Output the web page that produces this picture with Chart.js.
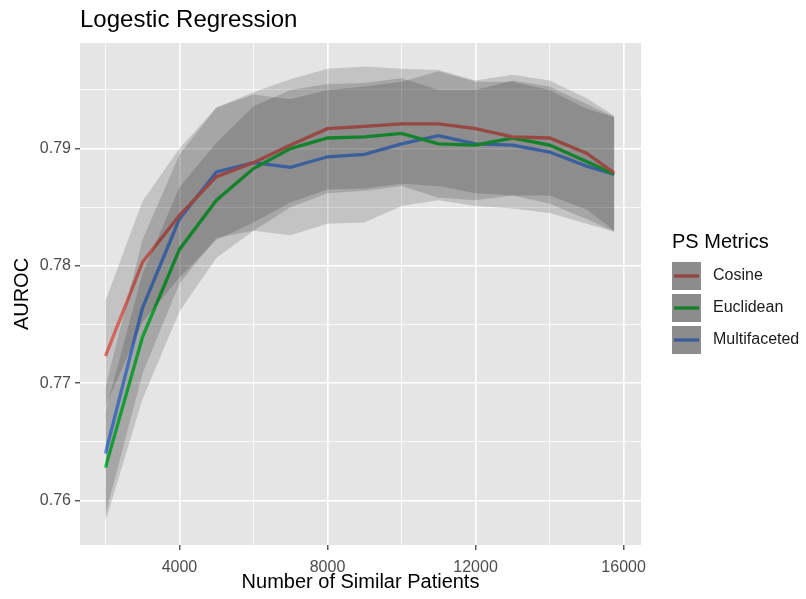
<!DOCTYPE html>
<html>
<head>
<meta charset="utf-8">
<script src="https://cdn.jsdelivr.net/npm/chart.js@4.4.1/dist/chart.umd.min.js"></script>
<style>
  body { margin: 0; background: #fff; }
  #wrap { width: 806px; height: 599px; }
</style>
</head>
<body>
<div id="wrap"><canvas id="aurocChart" width="806" height="599"></canvas></div>
<script>
// number of similar patients
var patients = [2000, 3000, 4000, 5000, 6000, 7000, 8000, 9000, 10000, 11000, 12000, 13000, 14000, 15000, 15750];

// mean AUROC per metric
var cosine       = [0.7723, 0.7803, 0.7843, 0.7876, 0.7888, 0.7903, 0.7917, 0.7919, 0.7921, 0.7921, 0.7917, 0.7910, 0.7909, 0.7896, 0.7879];
var euclidean    = [0.7628, 0.7739, 0.7814, 0.7856, 0.7883, 0.7900, 0.7909, 0.7910, 0.7913, 0.7904, 0.7903, 0.7909, 0.7903, 0.7889, 0.7878];
var multifaceted = [0.7640, 0.7764, 0.7840, 0.7880, 0.7888, 0.7884, 0.7893, 0.7895, 0.7904, 0.7911, 0.7904, 0.7903, 0.7897, 0.7885, 0.7878];

// confidence bands
var cosineLow  = [0.7680, 0.7752, 0.7790, 0.7822, 0.7837, 0.7854, 0.7865, 0.7866, 0.7870, 0.7868, 0.7862, 0.7860, 0.7860, 0.7848, 0.7830];
var cosineHigh = [0.7770, 0.7855, 0.7900, 0.7935, 0.7948, 0.7959, 0.7968, 0.7970, 0.7968, 0.7967, 0.7958, 0.7963, 0.7958, 0.7943, 0.7928];
var euclidLow  = [0.7582, 0.7686, 0.7761, 0.7807, 0.7830, 0.7850, 0.7862, 0.7864, 0.7868, 0.7858, 0.7856, 0.7860, 0.7853, 0.7840, 0.7829];
var euclidHigh = [0.7676, 0.7793, 0.7867, 0.7905, 0.7936, 0.7950, 0.7955, 0.7956, 0.7960, 0.7950, 0.7950, 0.7958, 0.7953, 0.7938, 0.7927];
var multiLow   = [0.7588, 0.7708, 0.7785, 0.7824, 0.7830, 0.7826, 0.7836, 0.7837, 0.7851, 0.7856, 0.7851, 0.7849, 0.7845, 0.7836, 0.7829];
var multiHigh  = [0.7696, 0.7822, 0.7895, 0.7935, 0.7946, 0.7942, 0.7950, 0.7953, 0.7957, 0.7966, 0.7957, 0.7957, 0.7950, 0.7934, 0.7927];

var metricNames = ['Cosine', 'Euclidean', 'Multifaceted'];
var xTicks = [2000, 4000, 6000, 8000, 10000, 12000, 14000, 16000];
var yTicks = [0.760, 0.765, 0.770, 0.775, 0.780, 0.785, 0.790, 0.795];

var lineColors = ['#F8766D', '#22D848', '#619CFF'];
var bandFill = 'rgba(0,0,0,0.15)';
var FONT = '"Liberation Sans", Arial, Helvetica, sans-serif';

function toPoints(list) {
    return patients.map(function (x, i) { return { x: x, y: list[i] }; });
}

function lineSet(label, list, color) {
    return {
        label: label, data: toPoints(list), borderColor: color, borderWidth: 3.3,
        pointRadius: 0, fill: false, tension: 0, order: 2
    };
}

function bandLow(list) {
    return {
        label: 'low', data: toPoints(list), borderColor: 'transparent', borderWidth: 0,
        pointRadius: 0, fill: false, order: 1
    };
}

function bandHigh(list, lowIndex) {
    return {
        label: 'high', data: toPoints(list), borderColor: 'transparent', borderWidth: 0,
        pointRadius: 0, backgroundColor: bandFill, fill: { target: lowIndex }, order: 1
    };
}

var isMajorX = function (v) { return v % 4000 === 0; };
var isMajorY = function (v) { return Math.round(v * 1000) % 10 === 0; };

// ggplot-like panel, titles and legend
var decorations = {
    id: 'decorations',
    beforeDraw: function (chart) {
        var c = chart.ctx, a = chart.chartArea;
        c.save();
        c.fillStyle = '#ffffff';
        c.fillRect(0, 0, chart.width, chart.height);
        c.fillStyle = '#e5e5e5';
        c.fillRect(a.left, a.top, a.right - a.left, a.bottom - a.top);
        c.restore();
    },
    afterDraw: function (chart) {
        var c = chart.ctx, a = chart.chartArea;
        c.save();
        c.fillStyle = '#000000';
        c.textAlign = 'left';
        c.textBaseline = 'alphabetic';
        c.font = '24px ' + FONT;
        c.fillText('Logestic Regression', a.left, 27);

        c.font = '20px ' + FONT;
        c.textAlign = 'center';
        c.textBaseline = 'middle';
        c.fillText('Number of Similar Patients', (a.left + a.right) / 2, 582);

        c.save();
        c.translate(22, (a.top + a.bottom) / 2);
        c.rotate(-Math.PI / 2);
        c.fillText('AUROC', 0, 0);
        c.restore();

        // legend
        c.textAlign = 'left';
        c.fillText('PS Metrics', 672, 242);
        c.font = '16px ' + FONT;
        for (var i = 0; i < metricNames.length; i++) {
            var ky = 262 + i * 32;
            c.fillStyle = '#e9e9e9';
            c.fillRect(672, ky, 29, 28);
            c.strokeStyle = lineColors[i];
            c.lineWidth = 3.3;
            c.beginPath();
            c.moveTo(674, ky + 14);
            c.lineTo(699, ky + 14);
            c.stroke();
            c.fillStyle = 'rgba(0,0,0,0.4)';
            c.fillRect(672, ky, 29, 28);
            c.fillStyle = '#1a1a1a';
            c.fillText(metricNames[i], 713, ky + 14);
        }
        c.restore();
    }
};

var datasets = [
    bandLow(cosineLow), bandHigh(cosineHigh, 0),
    bandLow(euclidLow), bandHigh(euclidHigh, 2),
    bandLow(multiLow), bandHigh(multiHigh, 4),
    lineSet('Cosine', cosine, lineColors[0]),
    lineSet('Euclidean', euclidean, lineColors[1]),
    lineSet('Multifaceted', multifaceted, lineColors[2])
];

var ctx = document.getElementById('aurocChart').getContext('2d');
var chart = new Chart(ctx, {
    type: 'line',
    data: { datasets: datasets },
    options: {
        responsive: false,
        animation: false,
        layout: { padding: { top: 43, right: 165, bottom: 0, left: 0 } },
        plugins: {
            legend: { display: false },
            title: { display: false },
            tooltip: { enabled: false },
            filler: { propagate: false }
        },
        scales: {
            x: {
                type: 'linear',
                min: 1313,
                max: 16470,
                afterBuildTicks: function (scale) {
                    scale.ticks = xTicks.map(function (v) { return { value: v }; });
                },
                afterFit: function (scale) { scale.height = 54; },
                border: { display: false },
                grid: {
                    color: '#ffffff',
                    lineWidth: function (c) { return isMajorX(c.tick.value) ? 1.6 : 0.8; },
                    tickColor: function (c) { return isMajorX(c.tick.value) ? '#333333' : 'rgba(0,0,0,0)'; },
                    tickLength: 5,
                    tickWidth: 1.2
                },
                ticks: {
                    autoSkip: false,
                    maxRotation: 0,
                    padding: 8,
                    color: '#4d4d4d',
                    font: { family: FONT, size: 16 },
                    callback: function (v) { return isMajorX(v) ? String(v) : ''; }
                }
            },
            y: {
                type: 'linear',
                min: 0.7562,
                max: 0.7990,
                afterBuildTicks: function (scale) {
                    scale.ticks = yTicks.map(function (v) { return { value: v }; });
                },
                afterFit: function (scale) { scale.width = 80; },
                border: { display: false },
                grid: {
                    color: '#ffffff',
                    lineWidth: function (c) { return isMajorY(c.tick.value) ? 1.6 : 0.8; },
                    tickColor: function (c) { return isMajorY(c.tick.value) ? '#333333' : 'rgba(0,0,0,0)'; },
                    tickLength: 5,
                    tickWidth: 1.2
                },
                ticks: {
                    autoSkip: false,
                    padding: 4,
                    color: '#4d4d4d',
                    font: { family: FONT, size: 16 },
                    callback: function (v) { return isMajorY(v) ? v.toFixed(2) : ''; }
                }
            }
        }
    },
    plugins: [decorations]
});
</script>
</body>
</html>
